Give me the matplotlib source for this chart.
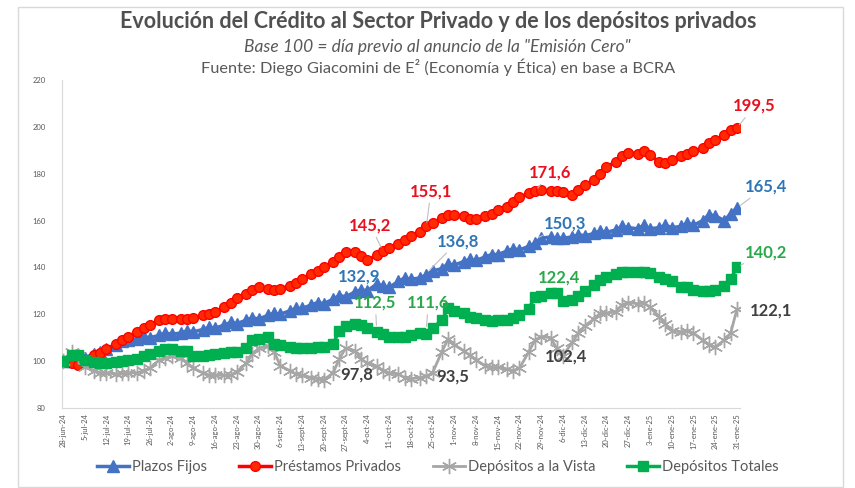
import numpy as np
import pandas as pd
import matplotlib
matplotlib.use('Agg')
from matplotlib import pyplot as plt
from matplotlib.patches import Rectangle

plt.rcParams['font.family'] = ['Lato', 'DejaVu Sans']

# fechas: lunes, miercoles y viernes entre 28-jun-24 y 31-ene-25
fechas = pd.date_range('2024-06-28', '2025-01-31', freq='D')
fechas = fechas[fechas.weekday.isin([0, 2, 4])]

plazos_fijos = [100,
    100, 100.5, 101.5, 103, 104, 105, 107, 108.5, 109, 109.5, 110.5, 110,
    111, 112, 111.5, 112, 113, 112.5, 113.5, 114.5, 114, 115.5, 116.5, 116,
    117.5, 118.5, 118, 119.5, 120.5, 120, 121.5, 122.5, 122.5, 124, 125, 124.5,
    126.5, 128, 127.5, 129.5, 130.5, 130, 132.9, 132, 131.5, 134, 135.5, 135,
    135.5, 136.8, 138.5, 139.5, 141.5, 141, 142.5, 143.5, 143, 144.5, 145.5, 145.5,
    147, 148, 147.5, 149, 150.3, 152.5, 153, 152.5, 152.5, 153, 154, 153.5,
    154.5, 155.5, 155, 156, 157.5, 157, 156.5, 158, 156.5, 157, 158, 157,
    157.5, 159, 158, 160, 162.5, 162, 160, 163, 165.4]

prestamos = [100,
    99, 98.5, 100.5, 102.5, 103.5, 105, 107.5, 109, 110.5, 112.5, 114, 115.5,
    117.5, 118, 118, 118, 118, 118.5, 119.5, 120, 121, 123, 125, 127,
    128.5, 130.5, 131.5, 131, 130.5, 131, 132, 133.5, 135, 137, 138.5, 140,
    142.5, 144.5, 146.5, 146.5, 145, 143, 145.2, 147, 148.5, 150, 151.5, 153.5,
    155.1, 157.5, 159, 161, 162.5, 162.5, 162, 160.5, 160.5, 162, 163, 164.5,
    166, 168, 170, 171.6, 172.5, 173, 172.5, 172.5, 172, 171, 173, 175,
    177.5, 180, 183, 185, 187.5, 189, 188.5, 189.5, 188, 185, 184.5, 186,
    187.5, 188.5, 189.5, 191, 193, 194.5, 196.5, 198.5, 199.5]

vista = [100,
    104, 102, 97.5, 96, 95, 95, 94.5, 95, 95, 95, 96, 97,
    100.5, 101.5, 102, 101.5, 99, 97, 95, 94, 94, 94, 94, 95.5,
    99, 103, 105.5, 106.5, 104, 98, 96, 94.5, 94, 93, 92.5, 92,
    95, 101, 105.5, 104.5, 101, 99, 97.8, 96, 95, 94.5, 93, 92.5,
    93, 93.5, 95, 104, 109.5, 107, 104.5, 102.5, 100.5, 98, 97.5, 97.5,
    96.5, 96, 97, 104, 109, 110.5, 110, 105.5, 102.4, 108, 112, 115,
    118, 120.5, 120.5, 121, 124, 125, 124.5, 125, 123, 119, 116, 113,
    112.5, 113, 112, 109, 107, 106, 109, 112, 122.1]

totales = [100,
    102.5, 102.5, 100.5, 99.5, 99, 99, 99.5, 100, 100.5, 101, 102, 103,
    104.5, 105, 105, 104.5, 104.5, 102, 102, 102.5, 103, 103.5, 104, 104,
    105.5, 109, 109.5, 110.5, 107.5, 107, 106, 105.5, 105.5, 105.5, 106, 106,
    107.5, 113, 115, 116, 115.5, 114, 112.5, 111.5, 110.5, 110.5, 110.5, 111,
    112, 111.6, 114, 117.5, 122.5, 121.5, 120.5, 119, 118.5, 117.5, 117, 117.5,
    117.5, 118.5, 119.5, 122.4, 127.5, 128, 129, 129, 125.5, 126, 128, 130,
    132.5, 134.5, 136, 137, 138, 138, 138, 138, 137.5, 136, 135, 134,
    131.5, 131.5, 130.5, 130, 130, 130.5, 132, 135, 140.2]

tick_labels = ['28-jun-24', '5-jul-24', '12-jul-24', '19-jul-24', '26-jul-24',
               '2-ago-24', '9-ago-24', '16-ago-24', '23-ago-24', '30-ago-24',
               '6-sept-24', '13-sept-24', '20-sept-24', '27-sept-24', '4-oct-24',
               '11-oct-24', '18-oct-24', '25-oct-24', '1-nov-24', '8-nov-24',
               '15-nov-24', '22-nov-24', '29-nov-24', '6-dic-24', '13-dic-24',
               '20-dic-24', '27-dic-24', '3-ene-25', '10-ene-25', '17-ene-25',
               '24-ene-25', '31-ene-25']

# etiquetas: (texto, dias desde 28-jun, y, color, punto al que apunta o None)
etiquetas = [
    ('199,5', 222.7, 209.0, '#E8101E', (217, 199.5)),
    ('165,4', 226.3, 174.5, '#2E75B6', (217, 165.4)),
    ('140,2', 226.5, 146.5, '#2AA84A', (217, 140.2)),
    ('122,1', 228.0, 121.8, '#404040', None),
    ('171,6', 157.0, 180.5, '#E8101E', (152, 172.5)),
    ('155,1', 118.5, 172.6, '#E8101E', (117, 157.5)),
    ('145,2', 99.0, 158.0, '#E8101E', (103, 147)),
    ('150,3', 161.8, 158.7, '#2E75B6', (152, 152.0)),
    ('136,8', 127.3, 151.2, '#2E75B6', (117, 137.5)),
    ('132,9', 95.5, 136.3, '#2E75B6', None),
    ('112,5', 100.6, 125.0, '#2AA84A', (101, 113.5)),
    ('111,6', 117.6, 125.0, '#2AA84A', (117, 113.0)),
    ('122,4', 159.8, 135.6, '#2AA84A', None),
    ('97,8', 94.7, 94.5, '#404040', None),
    ('93,5', 125.6, 93.4, '#404040', None),
    ('102,4', 162.1, 102.1, '#404040', None),
]

fig = plt.figure(figsize=(8.55, 4.88), dpi=100)
fig.patches.append(Rectangle((18 / 855, 1 / 488), 825 / 855, 480 / 488,
                             transform=fig.transFigure, fill=False,
                             edgecolor='#D9D9D9', lw=1))
ax = fig.add_axes([62 / 855, 80 / 488, 678 / 855, 328 / 488])

t0 = fechas[0]
dias = np.array([(f - t0).days for f in fechas])

ax.plot(dias, plazos_fijos, color='#4472C4', lw=2.5, marker='^', ms=8,
        label='Plazos Fijos', zorder=3)
ax.plot(dias, prestamos, color='#FF0000', lw=2.5, marker='o', ms=7,
        mfc='#FF2A00', mec='#FF0000', label='Préstamos Privados', zorder=4)
ax.plot(dias, vista, color='#A6A6A6', lw=2, marker=(6, 2, 0), ms=11, mew=1,
        label='Depósitos a la Vista', zorder=5)
ax.plot(dias, totales, color='#00B050', lw=2.5, marker='s', ms=6.5,
        label='Depósitos Totales', zorder=6)

for txt, x, y, col, pt in etiquetas:
    if pt is None:
        ax.text(x, y, txt, color=col, fontsize=12, fontweight='bold',
                ha='center', va='center', zorder=7)
    else:
        ax.annotate(txt, xy=pt, xytext=(x, y), color=col, fontsize=12,
                    fontweight='bold', ha='center', va='center', zorder=7,
                    arrowprops=dict(arrowstyle='-', color='#BFBFBF', lw=0.8,
                                    shrinkA=1, shrinkB=3))

ax.set_xlim(-0.3, 218)
ax.set_ylim(80, 220)
ax.set_yticks(np.arange(80, 221, 20))
ax.set_xticks(np.arange(0, 218, 7))
ax.set_xticklabels(tick_labels, rotation=90, fontsize=5.5, color='#595959')
ax.tick_params(axis='y', labelsize=5.5, colors='#595959', length=0, pad=12)
ax.tick_params(axis='x', length=0, pad=4)
for s in ['top', 'right']:
    ax.spines[s].set_visible(False)
ax.spines['left'].set_color('#D9D9D9')
ax.spines['bottom'].set_color('#D9D9D9')

fig.text(0.512, 0.955, 'Evolución del Crédito al Sector Privado y de los depósitos privados',
         ha='center', va='center', fontsize=15.5, fontweight='bold', color='#505050')
fig.text(0.512, 0.904, 'Base 100 = día previo al anuncio de la "Emisión Cero"',
         ha='center', va='center', fontsize=12.5, style='italic', color='#595959')
fig.text(0.512, 0.863, 'Fuente: Diego Giacomini de E² (Economía y Ética) en base a BCRA',
         ha='center', va='center', fontsize=11.8, color='#595959')

leg = fig.legend(loc='center', bbox_to_anchor=(0.512, 0.043), ncol=4,
                 frameon=False, fontsize=10.5, handlelength=2.2,
                 handletextpad=0.2, columnspacing=2.2, labelcolor='#595959')

fig.savefig('out.png', dpi=100)
